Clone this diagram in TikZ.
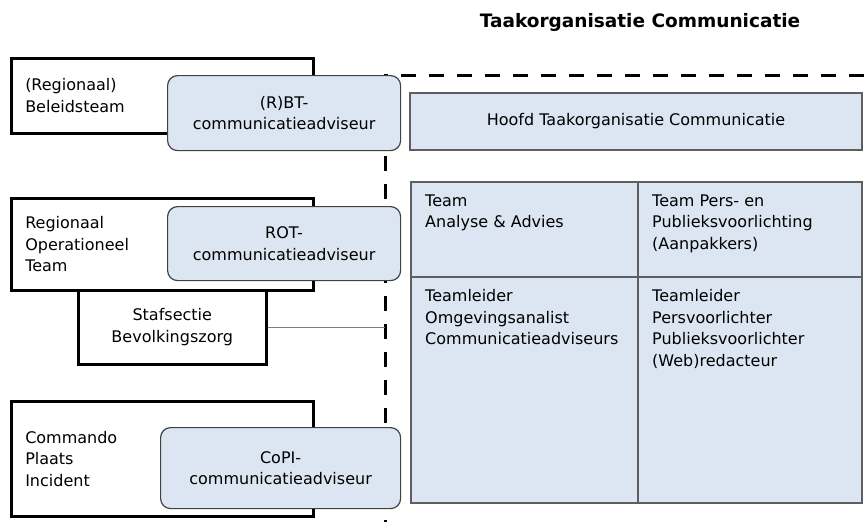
\documentclass[tikz,border=0pt]{standalone}
\usepackage{fontspec}
\setmainfont{DejaVu Sans}
\usetikzlibrary{positioning}

\definecolor{tobluefill}{RGB}{220,230,242}
\definecolor{toborder}{RGB}{65,65,65}

\begin{document}
\begin{tikzpicture}[x=1pt, y=-1pt,
      font=\fontsize{16}{21.5}\selectfont,
      teambox/.style={draw, line width=2.5pt, anchor=north west, align=left,
          text width=274pt, inner xsep=14pt},
      advisor/.style={draw=toborder, line width=1.2pt, fill=tobluefill,
          rounded corners=10pt, anchor=north west, align=center, minimum width=233pt},
      cell/.style={draw=toborder!85, line width=1.2pt, fill=tobluefill,
          anchor=north west, outer sep=0pt, minimum width=227pt},
      celltext/.style={anchor=north west, align=left, inner xsep=14pt, inner ysep=12.5pt},
      splitline/.style={line width=3pt, dash pattern=on 15pt off 13pt}]

      \useasboundingbox (0,0) rectangle (864,522);

      % Title
      \node(title) at (640,22) {\fontsize{18.5}{22}\selectfont\bfseries Taakorganisatie Communicatie};

      % Dashed border of the task organisation
      \coordinate (corner) at (385,75);
      \draw[splitline] (864,75) -- (corner) -- (385,522);

      % Teams on the left
      \node(bt)[teambox, minimum height=75pt] at (10,57) {(Regionaal)\\Beleidsteam};
      \node(staf)[teambox, text width=160pt, align=center, minimum height=74pt] at (77,289)
          {Stafsectie\\Bevolkingszorg};
      \node(rot)[teambox, minimum height=92pt] at (10,197) {Regionaal\\Operationeel\\Team};
      \node(copi)[teambox, minimum height=115pt] at (10,400) {Commando\\Plaats\\Incident};

      % Communication advisors
      \node(btadv)[advisor, minimum height=75pt] at (167,75) {(R)BT-\\communicatieadviseur};
      \node(rotadv)[advisor, minimum height=74pt] at (167,206) {ROT-\\communicatieadviseur};
      \node(copiadv)[advisor, minimum height=81pt, minimum width=240pt] at (160,427)
          {CoPI-\\communicatieadviseur};

      % Link Stafsectie to the border
      \draw[gray, line width=0.8pt] (staf.east) -- (staf.east -| corner);

      % Head of the task organisation
      \node(hoofd)[cell, minimum width=452pt, minimum height=57pt] at (410,93)
          {Hoofd Taakorganisatie Communicatie};

      % Teams of the task organisation
      \node(analyse)[cell, minimum height=95pt,
          label={[celltext]north west:Team\\Analyse \& Advies}] at (411,182) {};
      \node(pers)[cell, minimum width=224pt, minimum height=95pt, right=0pt of analyse,
          label={[celltext]north west:Team Pers- en\\Publieksvoorlichting\\(Aanpakkers)}] {};
      \node(analyseroles)[cell, minimum height=226pt, below=0pt of analyse,
          label={[celltext]north west:Teamleider\\Omgevingsanalist\\Communicatieadviseurs}] {};
      \node(persroles)[cell, minimum width=224pt, minimum height=226pt, below=0pt of pers,
          label={[celltext]north west:Teamleider\\Persvoorlichter\\Publieksvoorlichter\\(Web)redacteur}] {};

\end{tikzpicture}
\end{document}
